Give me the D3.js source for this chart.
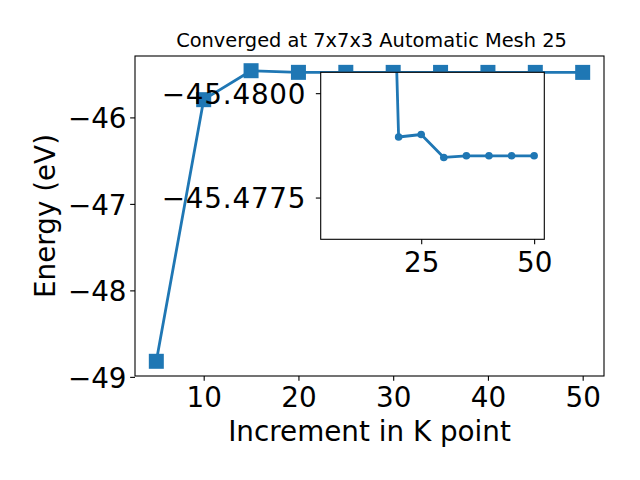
<!DOCTYPE html>
<html>
<head>
<meta charset="utf-8">
<script src="https://cdn.jsdelivr.net/npm/d3@7"></script>
<style>
  html, body { margin: 0; padding: 0; background: #fff; }
  svg { display: block; }
  text { font-family: "DejaVu Sans", sans-serif; fill: #000; }
</style>
</head>
<body>
<svg id="chart" width="640" height="480"></svg>
<script>
// ---- data ----
const kPoints = [5, 10, 15, 20, 25, 30, 35, 40, 45, 50];
const energies = [-48.82, -45.795, -45.46, -45.4790, -45.47894, -45.47949, -45.47945, -45.47945, -45.47945, -45.47945];
// the inset zooms on the converged part, starting at k = 15
const insetK = kPoints.slice(2);
const insetE = energies.slice(2);
const xTicks = [10, 20, 30, 40, 50];
const yTicks = [-46, -47, -48, -49];
const insetXTicks = [25, 50];
const insetYTickValues = [-45.47795, -45.48045];
const insetYTickLabels = ["\u221245.4800", "\u221245.4775"];
const titleText = "Converged at 7x7x3 Automatic Mesh 25";
const xLabel = "Increment in K point";
const yLabel = "Energy (eV)";

const blue = "#1f77b4";
const fs = 27.8;
const svg = d3.select("#chart");
svg.append("rect").attr("width", 640).attr("height", 480).attr("fill", "#fff");

// ---- main axes ----
const M = { left: 135, right: 604, top: 56, bottom: 376 };
const x = d3.scaleLinear().domain([2.75, 52.25]).range([M.left, M.right]);
const y = d3.scaleLinear().domain([-48.99, -45.29]).range([M.bottom, M.top]);

const line = d3.line().x((d, i) => x(kPoints[i])).y(d => y(d));
const main = svg.append("g");
main.append("path").datum(energies)
  .attr("d", line).attr("fill", "none")
  .attr("stroke", blue).attr("stroke-width", 2.8).attr("stroke-linejoin", "round");
const ms = 15;
main.selectAll("rect.mk").data(energies).enter().append("rect")
  .attr("class", "mk")
  .attr("x", (d, i) => x(kPoints[i]) - ms / 2)
  .attr("y", d => y(d) - ms / 2)
  .attr("width", ms).attr("height", ms)
  .attr("fill", blue);

// axes
const xAxis = d3.axisBottom(x).tickValues(xTicks).tickFormat(d3.format("d"))
  .tickSize(4.86).tickPadding(6.5);
const gx = main.append("g").attr("transform", `translate(0,${M.bottom})`).call(xAxis);
gx.select(".domain").remove();
gx.selectAll("text").attr("font-size", fs).attr("font-family", "DejaVu Sans").attr("fill", "#000");
gx.selectAll("line").attr("stroke", "#000").attr("stroke-width", 1.1);

const yAxis = d3.axisLeft(y).tickValues(yTicks).tickFormat(d3.format("d"))
  .tickSize(4.86).tickPadding(3.6);
const gy = main.append("g").attr("transform", `translate(${M.left},0)`).call(yAxis);
gy.select(".domain").remove();
gy.selectAll("text").attr("font-size", fs).attr("font-family", "DejaVu Sans")
  .attr("fill", "#000").attr("dy", "0.365em");
gy.selectAll("line").attr("stroke", "#000").attr("stroke-width", 1.1);

main.append("rect")
  .attr("x", M.left).attr("y", M.top)
  .attr("width", M.right - M.left).attr("height", M.bottom - M.top)
  .attr("fill", "none").attr("stroke", "#000").attr("stroke-width", 1.1);

svg.append("text").attr("x", (M.left + M.right) / 2 + 2).attr("y", 46.5)
  .attr("text-anchor", "middle").attr("font-size", 19.4).text(titleText);
svg.append("text").attr("x", (M.left + M.right) / 2).attr("y", 441)
  .attr("text-anchor", "middle").attr("font-size", fs).text(xLabel);
svg.append("text").attr("x", 55).attr("y", (M.top + M.bottom) / 2)
  .attr("transform", `rotate(-90,55,${(M.top + M.bottom) / 2})`)
  .attr("text-anchor", "middle").attr("font-size", fs).text(yLabel);

// ---- inset axes ----
const I = { left: 320.7, right: 544.3, top: 72.3, bottom: 239.3 };
const xi = d3.scaleLinear().domain([2.75, 52.25]).range([I.left, I.right]);
const yi = d3.scaleLinear().domain([-45.48145, -45.47745]).range([I.bottom, I.top]);

const inset = svg.append("g");
inset.append("rect")
  .attr("x", I.left).attr("y", I.top)
  .attr("width", I.right - I.left).attr("height", I.bottom - I.top)
  .attr("fill", "#fff");
svg.append("defs").append("clipPath").attr("id", "insetClip")
  .append("rect")
  .attr("x", I.left).attr("y", I.top)
  .attr("width", I.right - I.left).attr("height", I.bottom - I.top);

const plotI = inset.append("g").attr("clip-path", "url(#insetClip)");
const lineI = d3.line().x((d, i) => xi(insetK[i])).y(d => yi(d));
plotI.append("path").datum(insetE)
  .attr("d", lineI).attr("fill", "none")
  .attr("stroke", blue).attr("stroke-width", 2.8).attr("stroke-linejoin", "round");
plotI.selectAll("circle").data(insetE).enter().append("circle")
  .attr("cx", (d, i) => xi(insetK[i]))
  .attr("cy", d => yi(d))
  .attr("r", 3.8).attr("fill", blue);

const xAxisI = d3.axisBottom(xi).tickValues(insetXTicks).tickFormat(d3.format("d"))
  .tickSize(4.86).tickPadding(8.2);
const gxi = inset.append("g").attr("transform", `translate(0,${I.bottom})`).call(xAxisI);
gxi.select(".domain").remove();
gxi.selectAll("text").attr("font-size", fs).attr("font-family", "DejaVu Sans").attr("fill", "#000");
gxi.selectAll("line").attr("stroke", "#000").attr("stroke-width", 1.1);

const yAxisI = d3.axisLeft(yi).tickValues(insetYTickValues)
  .tickFormat((d, i) => insetYTickLabels[i])
  .tickSize(4.86).tickPadding(9.5);
const gyi = inset.append("g").attr("transform", `translate(${I.left},0)`).call(yAxisI);
gyi.select(".domain").remove();
gyi.selectAll("text").attr("font-size", fs).attr("font-family", "DejaVu Sans")
  .attr("fill", "#000").attr("dy", "0.365em").attr("letter-spacing", "0.8px");
gyi.selectAll("line").attr("stroke", "#000").attr("stroke-width", 1.1);

inset.append("rect")
  .attr("x", I.left).attr("y", I.top)
  .attr("width", I.right - I.left).attr("height", I.bottom - I.top)
  .attr("fill", "none").attr("stroke", "#000").attr("stroke-width", 1.1);
</script>
</body>
</html>
